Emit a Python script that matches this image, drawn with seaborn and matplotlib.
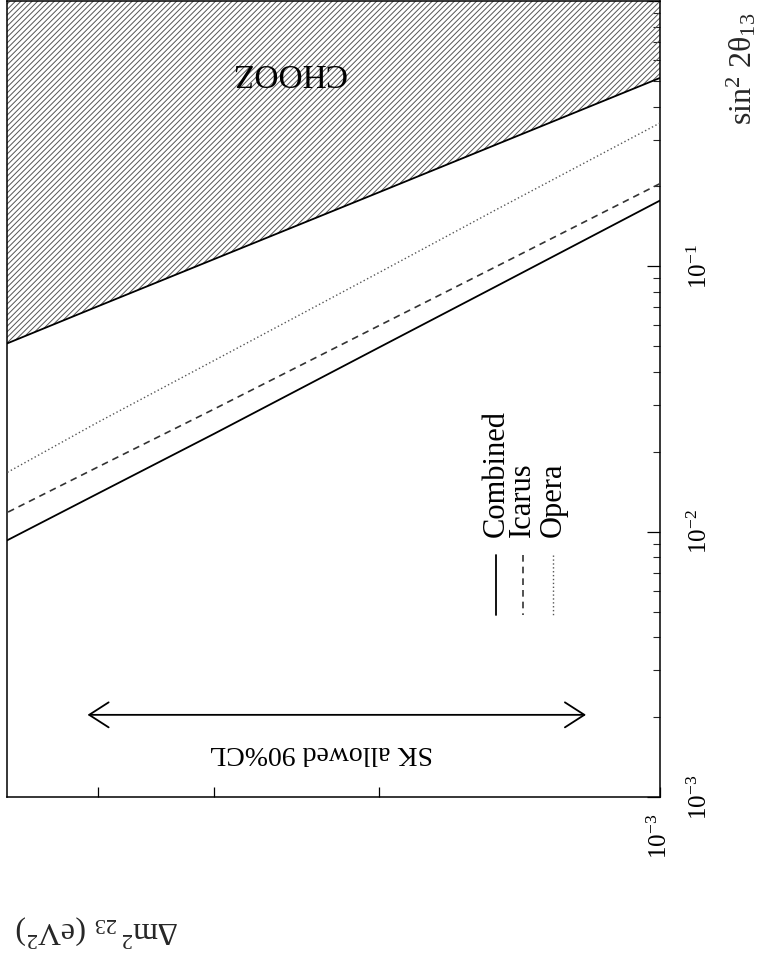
import matplotlib
matplotlib.use('Agg')
import matplotlib.pyplot as plt
import seaborn as sns
import pandas as pd
from matplotlib.ticker import FixedLocator, FixedFormatter, NullFormatter, LogLocator

# ---- data ----
dm2 = [1.0e-3, 1.5e-3, 2.0e-3, 3.0e-3, 4.0e-3, 5.0e-3]          # Delta m^2_23 (eV^2)
combined = [0.177, 0.0838, 0.0494, 0.0234, 0.0139, 0.00927]     # sin^2 2theta_13
icarus = [0.205, 0.0995, 0.0597, 0.0290, 0.0175, 0.0118]
opera = [0.347, 0.163, 0.0946, 0.0442, 0.0258, 0.0167]
chooz = [0.513, 0.287, 0.190, 0.1065, 0.0706, 0.0512]
sk_range = [1.2e-3, 4.1e-3]
series_names = ['Combined', 'Icarus', 'Opera']
sin_ticks = [1e-3, 1e-2, 1e-1, 1.0]
sin_labels = [r'$10^{-3}$', r'$10^{-2}$', r'$10^{-1}$', '']
dm_ticks = [1e-3]
dm_labels = [r'$10^{-3}$']
dm_minor = [2e-3, 3e-3, 4e-3]

sns.set_theme(style='white')
plt.rcParams['font.family'] = ['Liberation Serif', 'DejaVu Serif']
plt.rcParams['mathtext.fontset'] = 'custom'
plt.rcParams['mathtext.rm'] = 'Liberation Serif'
plt.rcParams['mathtext.it'] = 'Liberation Serif:italic'
plt.rcParams['mathtext.bf'] = 'Liberation Serif:bold'
plt.rcParams['hatch.linewidth'] = 0.7
plt.rcParams['hatch.color'] = '#555555'

fig = plt.figure(figsize=(7.6, 9.59), dpi=100)
ax = fig.add_axes([7 / 760, 162 / 959, 653 / 760, 796 / 959])
ax.set_facecolor('white')

df = pd.DataFrame({'dm2': dm2, 'Combined': combined, 'Icarus': icarus,
                   'Opera': opera, 'CHOOZ': chooz})

# CHOOZ excluded region (hatched)
ax.fill_between(df['dm2'], df['CHOOZ'], 1.0, facecolor='none',
                edgecolor='#555555', hatch='//////', linewidth=0, zorder=1)
sns.lineplot(data=df, x='dm2', y='CHOOZ', ax=ax, color='black',
             linewidth=1.3, zorder=3)

styles = {
    'Combined': dict(color='black', linestyle='-', linewidth=1.3),
    'Icarus': dict(color='#333333', linestyle=(0, (4, 3)), linewidth=1.2),
    'Opera': dict(color='#555555', linestyle=(0, (1, 1.8)), linewidth=1.0),
}
for name in series_names:
    sns.lineplot(data=df, x='dm2', y=name, ax=ax, zorder=3, **styles[name])

ax.set_xscale('log')
ax.set_yscale('log')
ax.set_xlim(5.0e-3, 1.0e-3)
ax.set_ylim(1.0e-3, 1.0)

# axes frame
for sp in ax.spines.values():
    sp.set_visible(True)
    sp.set_color('black')
    sp.set_linewidth(1.1)

# sin^2 axis (vertical) on the right
ax.yaxis.tick_right()
ax.yaxis.set_major_locator(FixedLocator(sin_ticks))
ax.yaxis.set_major_formatter(FixedFormatter(sin_labels))
ax.yaxis.set_minor_locator(LogLocator(base=10, subs=range(2, 10)))
ax.yaxis.set_minor_formatter(NullFormatter())
ax.tick_params(axis='y', which='major', direction='in', length=9.5, width=0.9,
               right=True, left=False, labelright=True, labelleft=False,
               labelsize=18, labelrotation=90, pad=20, colors='black')
ax.tick_params(axis='y', which='minor', direction='in', length=5, width=0.8,
               right=True, left=False)

# Delta m^2 axis (horizontal) at the bottom
ax.xaxis.set_major_locator(FixedLocator(dm_ticks))
ax.xaxis.set_major_formatter(FixedFormatter(dm_labels))
ax.xaxis.set_minor_locator(FixedLocator(dm_minor))
ax.xaxis.set_minor_formatter(NullFormatter())
ax.tick_params(axis='x', which='both', direction='in', length=7, width=0.9,
               bottom=True, top=False, labelsize=18, labelrotation=90, pad=12,
               colors='black')
for lbl in ax.get_yticklabels():
    lbl.set_verticalalignment('center')
    lbl.set_horizontalalignment('left')

# axis labels
ax.set_ylabel(r'$\mathrm{sin}^2\ 2\mathrm{θ}_{13}$', fontsize=23)
ax.yaxis.set_label_position('right')
ax.yaxis.label.set_rotation(90)
ax.yaxis.label.set_rotation_mode('default')
ax.yaxis.label.set_va('center')
ax.yaxis.label.set_ha('center')
ax.yaxis.set_label_coords(1.125, 0.915)

ax.set_xlabel(r'$\Delta\mathrm{m}^2\,_{23}\ (\mathrm{eV}^2)$', fontsize=23)
ax.xaxis.label.set_rotation(180)
ax.xaxis.label.set_va('center')
ax.xaxis.label.set_ha('center')
ax.xaxis.set_label_coords(0.138, -0.168)

# annotations
ax.text(0.430, 0.911, 'CHOOZ', transform=ax.transAxes, rotation=180,
        ha='center', va='center', fontsize=24, color='black', zorder=4)
sk_y = 2.04e-3
ax.annotate('', xy=(sk_range[0], sk_y), xytext=(sk_range[1], sk_y),
            arrowprops=dict(arrowstyle='<->,head_length=0.7,head_width=0.45',
                            color='black', lw=1.3, mutation_scale=20,
                            shrinkA=0, shrinkB=0))
ax.text(0.481, 0.0565, 'SK allowed 90%CL', transform=ax.transAxes,
        rotation=180, ha='center', va='center', fontsize=20, color='black')

# rotated key
key_x = [0.749, 0.790, 0.836]
for name, kx in zip(series_names, key_x):
    ax.text(kx, 0.3266, name, transform=ax.transAxes, rotation=90,
            ha='center', va='bottom', fontsize=22, color='black')
    ax.plot([kx, kx], [0.304, 0.2286], transform=ax.transAxes, **styles[name])

fig.savefig('out.png', dpi=100)
